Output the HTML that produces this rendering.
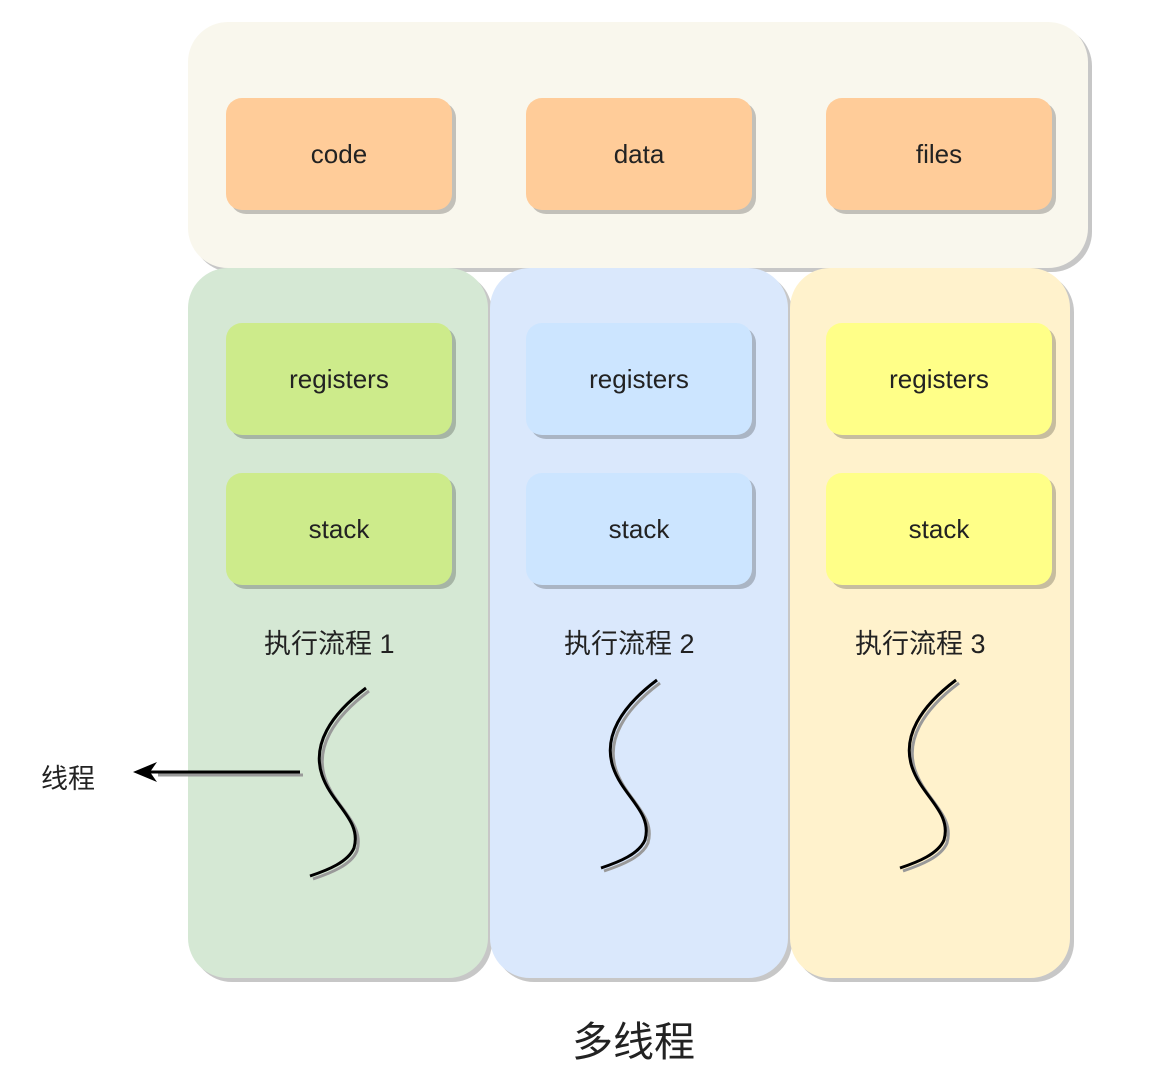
<!DOCTYPE html>
<html><head><meta charset="utf-8"><style>
body{margin:0;background:#fff;width:1158px;height:1073px;position:relative;overflow:hidden;font-family:"Liberation Sans","Noto Sans CJK SC",sans-serif}
.b{position:absolute;box-sizing:border-box;display:flex;align-items:center;justify-content:center;font-size:26px;color:#222;box-shadow:4px 4px 0 rgba(0,0,0,0.22)}
.t{position:absolute;font-size:27px;color:#222;white-space:nowrap}
</style></head><body>
<div class="b" style="left:188px;top:22px;width:900px;height:246px;background:#f9f7ed;border-radius:40px"></div>
<div class="b" style="left:188px;top:268px;width:300px;height:710px;background:#d5e8d4;border-radius:40px"></div>
<div class="b" style="left:490px;top:268px;width:298px;height:710px;background:#dae8fc;border-radius:40px"></div>
<div class="b" style="left:790px;top:268px;width:280px;height:710px;background:#fff2cc;border-radius:40px"></div>

<div class="b" style="left:226px;top:98px;width:226px;height:112px;background:#ffcc99;border-radius:16px">code</div>
<div class="b" style="left:526px;top:98px;width:226px;height:112px;background:#ffcc99;border-radius:16px">data</div>
<div class="b" style="left:826px;top:98px;width:226px;height:112px;background:#ffcc99;border-radius:16px">files</div>

<div class="b" style="left:226px;top:323px;width:226px;height:112px;background:#cdeb8b;border-radius:16px">registers</div>
<div class="b" style="left:526px;top:323px;width:226px;height:112px;background:#cce5ff;border-radius:16px">registers</div>
<div class="b" style="left:826px;top:323px;width:226px;height:112px;background:#ffff88;border-radius:16px">registers</div>
<div class="b" style="left:226px;top:473px;width:226px;height:112px;background:#cdeb8b;border-radius:16px">stack</div>
<div class="b" style="left:526px;top:473px;width:226px;height:112px;background:#cce5ff;border-radius:16px">stack</div>
<div class="b" style="left:826px;top:473px;width:226px;height:112px;background:#ffff88;border-radius:16px">stack</div>

<div class="t" style="left:264px;top:622px">执行流程 1</div>
<div class="t" style="left:564px;top:622px">执行流程 2</div>
<div class="t" style="left:855px;top:622px">执行流程 3</div>
<div class="t" style="left:41px;top:757px">线程</div>
<div class="t" style="left:572px;top:1008px;font-size:41px">多线程</div>

<svg width="1158" height="1073" style="position:absolute;left:0;top:0">
<defs><g id="s"><path d="M366,688 C330,715 312,745 322,775 C332,805 362,820 354,848 C348,862 328,870 310,876" fill="none"/></g></defs>
<g stroke="#999" stroke-width="3" transform="translate(3,3)"><use href="#s"/><use href="#s" transform="translate(291,-8)"/><use href="#s" transform="translate(590,-8)"/><line x1="155" y1="772" x2="300" y2="772"/></g>
<g stroke="#000" stroke-width="3"><use href="#s"/><use href="#s" transform="translate(291,-8)"/><use href="#s" transform="translate(590,-8)"/><line x1="148" y1="772" x2="300" y2="772"/></g>
<path d="M133,772 L157,762 L150,772 L157,782 Z" fill="#000"/>
</svg>
</body></html>
